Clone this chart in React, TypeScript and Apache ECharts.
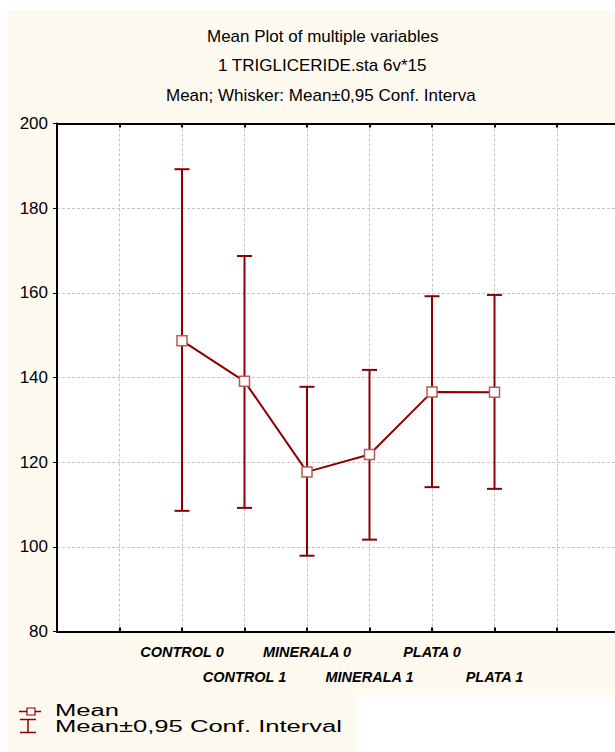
import React, { useEffect, useRef } from "react";
import * as echarts from "echarts";

const categories = ["CONTROL 0", "CONTROL 1", "MINERALA 0", "MINERALA 1", "PLATA 0", "PLATA 1"];
const means = [148.7, 139.1, 117.7, 121.8, 136.6, 136.5];
const lower = [108.5, 109.2, 97.9, 101.7, 114.1, 113.7];
const upper = [189.2, 168.7, 137.8, 141.8, 159.2, 159.5];
const titleLines = [
  "Mean Plot of multiple variables",
  "1 TRIGLICERIDE.sta 6v*15",
  "Mean; Whisker: Mean±0,95 Conf. Interva",
];
const legendLabels = ["Mean", "Mean±0,95 Conf. Interval"];
const yMin = 80;
const yMax = 200;
const yStep = 20;
const xOffset = 2; // first category sits on the 3rd vertical grid line

const RED = "#8b0000";
const CREAM = "#fffaf0";

export default function App() {
  const ref = useRef<HTMLDivElement>(null);
  useEffect(() => {
    if (!ref.current) return;
    const chart = echarts.init(ref.current, null, { renderer: "svg" });
    const meanData = means.map((m, i) => [i + xOffset, m]);
    const errData = means.map((_, i) => [i + xOffset, lower[i], upper[i]]);
    const font = '"Liberation Sans", Arial, sans-serif';
    const axisCommon = {
      type: "value" as const,
      min: 0,
      max: 10,
      interval: 1,
    };
    chart.setOption({
      animation: false,
      backgroundColor: "transparent",
      graphic: [
        { type: "rect", z: -10, silent: true, shape: { x: 8, y: 10, width: 700, height: 685 }, style: { fill: CREAM } },
        { type: "rect", z: -10, silent: true, shape: { x: 8, y: 694, width: 349, height: 60 }, style: { fill: CREAM } },
        { type: "text", x: 207, y: 36, style: { text: titleLines[0], font: `17px ${font}`, fill: "#000", verticalAlign: "middle" } },
        { type: "text", x: 218, y: 65, style: { text: titleLines[1], font: `17px ${font}`, fill: "#000", verticalAlign: "middle" } },
        { type: "text", x: 166, y: 95, style: { text: titleLines[2], font: `17px ${font}`, fill: "#000", verticalAlign: "middle" } },
        { type: "line", shape: { x1: 19, y1: 711.5, x2: 41, y2: 711.5 }, style: { stroke: RED, lineWidth: 1.5 } },
        { type: "rect", shape: { x: 27, y: 708, width: 8, height: 7 }, style: { fill: "#fff", stroke: RED, lineWidth: 1.2 } },
        { type: "line", shape: { x1: 20, y1: 719.5, x2: 36, y2: 719.5 }, style: { stroke: RED, lineWidth: 1.5 } },
        { type: "line", shape: { x1: 28, y1: 719.5, x2: 28, y2: 732.5 }, style: { stroke: RED, lineWidth: 1.5 } },
        { type: "line", shape: { x1: 20, y1: 732.5, x2: 36, y2: 732.5 }, style: { stroke: RED, lineWidth: 1.5 } },
        { type: "text", x: 55, y: 710.5, scaleX: 1.6, style: { text: legendLabels[0], font: `16px ${font}`, fill: "#000", verticalAlign: "middle" } },
        { type: "text", x: 55, y: 726.5, scaleX: 1.6, style: { text: legendLabels[1], font: `16px ${font}`, fill: "#000", verticalAlign: "middle" } },
      ],
      grid: {
        left: 57,
        right: 18,
        top: 123.5,
        bottom: 120.5,
        show: true,
        backgroundColor: "#ffffff",
        borderWidth: 0,
      },
      xAxis: [
        {
          ...axisCommon,
          position: "bottom",
          axisLine: { show: true, lineStyle: { color: "#000", width: 2 } },
          axisTick: { show: true, inside: true, length: 4, lineStyle: { color: "#000", width: 2 } },
          splitLine: { show: true, lineStyle: { color: "#c4c4c4", type: [3, 2], width: 1 } },
          axisLabel: {
            show: true,
            margin: 8,
            color: "#000",
            fontFamily: font,
            fontSize: 14.5,
            fontWeight: "bold",
            fontStyle: "italic",
            lineHeight: 25,
            formatter: (v: number) => {
              const r = Math.round(v);
              if (Math.abs(v - r) > 1e-6) return "";
              const i = r - xOffset;
              if (i < 0 || i >= categories.length) return "";
              return i % 2 === 0 ? categories[i] : "\n" + categories[i];
            },
          },
        },
        {
          ...axisCommon,
          position: "top",
          axisLine: { show: true, lineStyle: { color: "#000", width: 2 } },
          axisTick: { show: true, inside: true, length: 4, lineStyle: { color: "#000", width: 2 } },
          splitLine: { show: false },
          axisLabel: { show: false },
        },
      ],
      yAxis: {
        type: "value",
        min: yMin,
        max: yMax,
        interval: yStep,
        axisLine: { show: true, lineStyle: { color: "#000", width: 2 } },
        axisTick: { show: true, inside: false, length: 4, lineStyle: { color: "#000", width: 1 } },
        splitLine: { show: true, lineStyle: { color: "#c4c4c4", type: [3, 2], width: 1 } },
        axisLabel: { margin: 9, color: "#000", fontFamily: font, fontSize: 17 },
      },
      series: [
        {
          type: "custom",
          z: 2,
          data: errData,
          renderItem: (params: any, api: any) => {
            const x = api.value(0);
            const lo = api.coord([x, api.value(1)]);
            const hi = api.coord([x, api.value(2)]);
            const hw = 7.5;
            const style = { stroke: RED, lineWidth: 2 };
            return {
              type: "group",
              children: [
                { type: "line", shape: { x1: lo[0], y1: lo[1], x2: hi[0], y2: hi[1] }, style },
                { type: "line", shape: { x1: hi[0] - hw, y1: hi[1], x2: hi[0] + hw, y2: hi[1] }, style },
                { type: "line", shape: { x1: lo[0] - hw, y1: lo[1], x2: lo[0] + hw, y2: lo[1] }, style },
              ],
            };
          },
        },
        {
          type: "line",
          z: 3,
          data: meanData,
          symbol: "rect",
          symbolSize: 10,
          showAllSymbol: true,
          lineStyle: { color: RED, width: 2 },
          itemStyle: { color: "#ffffff", borderColor: "#b85a5a", borderWidth: 1.5 },
        },
      ],
    });
    return () => chart.dispose();
  }, []);
  return (
    <div style={{ position: "absolute", left: 0, top: 0, width: 615, height: 752, overflow: "hidden", background: "#fff" }}>
      <div ref={ref} style={{ width: 700, height: 752 }} />
    </div>
  );
}
